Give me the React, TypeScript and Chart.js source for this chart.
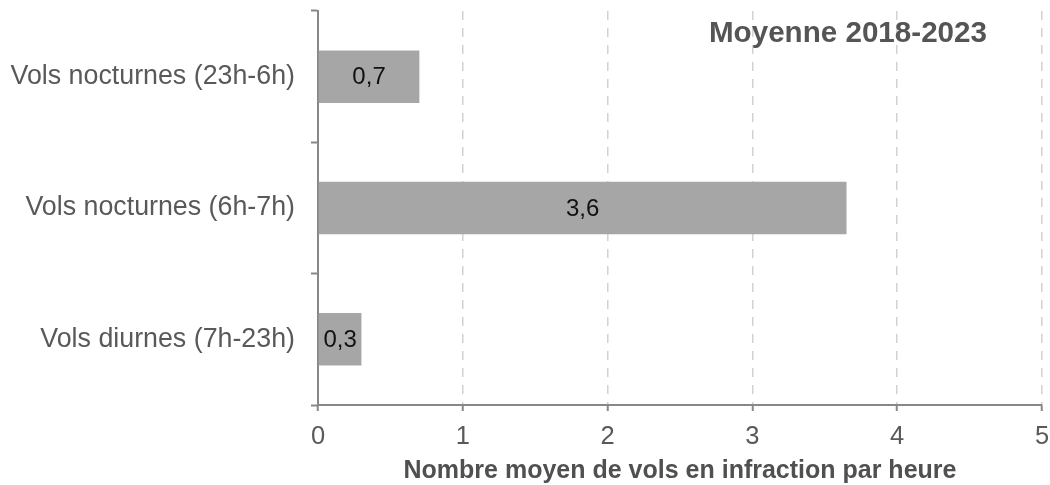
import React, { useEffect, useRef } from "react";
import { Chart, registerables } from "chart.js";

Chart.register(...registerables);

const categories = ["Vols nocturnes (23h-6h)", "Vols nocturnes (6h-7h)", "Vols diurnes (7h-23h)"];
const values = [0.7, 3.65, 0.3];
const xTicks = [0, 1, 2, 3, 4, 5];
const chartTitle = "Moyenne 2018-2023";
const xAxisTitle = "Nombre moyen de vols en infraction par heure";

const FONT = "'Liberation Sans', Arial, sans-serif";

const labelsPlugin = {
  id: "barLabels",
  afterDatasetsDraw(chart: any) {
    const { ctx } = chart;
    const meta = chart.getDatasetMeta(0);
    ctx.save();
    ctx.font = `24px ${FONT}`;
    ctx.fillStyle = "#111111";
    ctx.textAlign = "center";
    ctx.textBaseline = "middle";
    meta.data.forEach((el: any, i: number) => {
      const v = chart.data.datasets[0].data[i] as number;
      const txt = v.toFixed(1).replace(".", ",");
      ctx.fillText(txt, (el.x + el.base) / 2, el.y + 1);
    });
    ctx.restore();
  },
};

const titlePlugin = {
  id: "innerTitle",
  afterDraw(chart: any) {
    const { ctx, scales } = chart;
    const x = scales.x.getPixelForValue(3.66);
    ctx.save();
    ctx.font = `bold 29.6px ${FONT}`;
    ctx.fillStyle = "#555555";
    ctx.textAlign = "center";
    ctx.textBaseline = "alphabetic";
    ctx.fillText(chartTitle, x, 42);
    ctx.restore();
  },
};

export default function App() {
  const ref = useRef<HTMLCanvasElement | null>(null);
  useEffect(() => {
    if (!ref.current) return;
    const chart = new Chart(ref.current, {
      type: "bar",
      data: {
        labels: categories,
        datasets: [
          {
            data: values,
            backgroundColor: "#a6a6a6",
            borderWidth: 0,
            barPercentage: 0.4,
            categoryPercentage: 1,
          },
        ],
      },
      options: {
        indexAxis: "y",
        responsive: false,
        animation: false,
        layout: { padding: { left: 0, right: 8, top: 11, bottom: 0 } },
        plugins: {
          legend: { display: false },
          tooltip: { enabled: false },
          title: { display: false },
        },
        scales: {
          x: {
            type: "linear",
            min: xTicks[0],
            max: xTicks[xTicks.length - 1],
            afterBuildTicks: (scale: any) => {
              scale.ticks = xTicks.map((v) => ({ value: v }));
            },
            afterFit: (scale: any) => {
              scale.height = 80;
              scale.paddingLeft = 0;
              scale.paddingRight = 0;
            },
            grid: {
              color: "#d2d2d2",
              lineWidth: 1.5,
              drawTicks: true,
              tickLength: 6,
              tickColor: "#888888",
              tickWidth: 2,
              tickBorderDash: [],
            },
            border: { display: true, color: "#888888", width: 2, dash: [9, 8] },
            ticks: {
              color: "#595959",
              font: { family: FONT, size: 25.5 },
              padding: 11,
              callback: (v: any) => String(v),
            },
            title: {
              display: true,
              text: xAxisTitle,
              color: "#505050",
              font: { family: FONT, size: 25, weight: "bold", lineHeight: 1.1 },
              padding: { top: 0, bottom: 0 },
            },
          },
          y: {
            type: "category",
            afterFit: (scale: any) => {
              scale.width = 318;
              scale.paddingTop = 0;
              scale.paddingBottom = 0;
            },
            grid: {
              display: true,
              drawOnChartArea: false,
              drawTicks: true,
              tickLength: 7,
              tickColor: "#888888",
              tickWidth: 2,
              offset: true,
            },
            border: { display: true, color: "#888888", width: 2 },
            ticks: {
              color: "#595959",
              font: { family: FONT, size: 26.8 },
              padding: 16,
            },
          },
        },
      },
      plugins: [labelsPlugin, titlePlugin],
    } as any);
    return () => chart.destroy();
  }, []);
  return (
    <div style={{ position: "absolute", left: 0, top: 0, width: 1050, height: 485, background: "#fff" }}>
      <canvas ref={ref} width={1050} height={485} style={{ display: "block" }} />
    </div>
  );
}
